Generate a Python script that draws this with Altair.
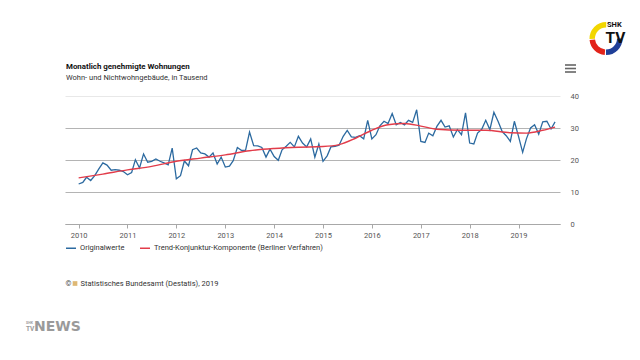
import altair as alt
import pandas as pd

# ---------------- data ----------------
orig_values = [12.5, 13.0, 14.6, 13.6, 15.1, 17.2, 19.1, 18.4, 16.8, 17.0, 16.8, 16.4,
               15.4, 16.1, 20.1, 17.5, 21.9, 19.3, 19.6, 20.3, 19.6, 19.1, 18.5, 23.7,
               14.1, 15.1, 19.7, 18.2, 23.2, 23.75, 22.2, 21.9, 20.9, 22.2, 18.75, 20.9,
               17.8, 18.1, 19.8, 23.9, 23.0, 23.0, 28.75, 24.5, 24.4, 23.9, 20.9, 23.4,
               21.1, 19.9, 23.2, 24.3, 25.5, 24.1, 27.4, 25.3, 24.1, 26.6, 20.9, 25.0,
               19.6, 21.3, 24.1, 24.3, 24.6, 27.4, 29.25, 27.2, 27.1, 27.6, 26.6, 32.4,
               26.6, 27.9, 30.7, 32.1, 31.4, 34.5, 31.0, 31.75, 31.0, 32.4, 31.75, 35.7,
               25.8, 25.5, 28.4, 27.6, 30.5, 32.4, 30.3, 30.7, 27.2, 29.5, 27.9, 34.7,
               25.3, 25.0, 28.4, 29.6, 32.4, 29.5, 34.9, 32.1, 28.9, 27.6, 25.8, 32.1,
               27.4, 22.4, 26.6, 30.0, 31.0, 28.1, 31.9, 32.1, 29.7, 31.9]
orig_start = "2010-01-01"

trend_months = ["2010-01", "2010-07", "2011-01", "2011-07", "2012-01", "2012-07",
                "2013-01", "2013-07", "2014-01", "2014-07", "2015-01", "2015-05",
                "2015-09", "2016-01", "2016-05", "2016-09", "2017-01", "2017-05",
                "2017-11", "2018-05", "2018-11", "2019-03", "2019-07", "2019-10"]
trend_values = [14.4, 15.6, 16.9, 18.0, 19.6, 20.6, 21.6, 22.9, 23.6, 24.0, 24.2, 24.8,
                26.8, 29.3, 31.0, 31.4, 30.6, 29.6, 29.3, 29.3, 28.5, 28.4, 29.3, 30.3]

series_names = ["Originalwerte", "Trend-Konjunktur-Komponente (Berliner Verfahren)"]
series_colors = ["#2c6aa0", "#e23c4a"]
year_ticks = list(range(2010, 2020))
y_ticks = [0, 10, 20, 30, 40]

title_text = "Monatlich genehmigte Wohnungen"
subtitle_text = "Wohn- und Nichtwohngebäude, in Tausend"
source_copy = "©"
source_text = "Statistisches Bundesamt (Destatis), 2019"

FONT = "Roboto"
OX, OY = 65, 96  # plot origin on page


def px(x):
    return x - OX


def py(y):
    return y - OY


months = pd.date_range(orig_start, periods=len(orig_values), freq="MS")
df_o = pd.DataFrame({"date": months, "value": orig_values, "series": series_names[0]})
df_t = pd.DataFrame({"date": pd.to_datetime(trend_months), "value": trend_values,
                     "series": series_names[1]})

x_enc = alt.X("date:T",
              scale=alt.Scale(domain=[alt.DateTime(year=2009, month=9, date=21),
                                      alt.DateTime(year=2019, month=11, date=7)]),
              axis=alt.Axis(values=[alt.DateTime(year=y, month=1, date=1) for y in year_ticks],
                            format="%Y", title=None, grid=False,
                            domainColor="#a8a8a8", tickColor="#a8a8a8", tickSize=4,
                            labelFontSize=7.5, labelColor="#555", labelFont=FONT,
                            labelPadding=3, labelFlush=False))
y_enc = alt.Y("value:Q",
              scale=alt.Scale(domain=[0, 40], nice=False),
              axis=alt.Axis(values=y_ticks, orient="right", title=None, domain=False,
                            ticks=False, labelPadding=10, labelFontSize=7.5,
                            labelColor="#555", labelFont=FONT, labelAlign="left",
                            gridColor={"condition": {"test": "datum.value === 40",
                                                     "value": "#e8e8e8"},
                                       "value": "#b4b4b4"},
                            gridWidth=1))
color_enc = alt.Color("series:N",
                      scale=alt.Scale(domain=series_names, range=series_colors),
                      legend=alt.Legend(orient="none", legendX=0, legendY=146,
                                        direction="horizontal", title=None,
                                        symbolType="stroke", symbolSize=100,
                                        symbolStrokeWidth=1.5, labelFontSize=7.5,
                                        labelFont=FONT, labelColor="#333",
                                        labelLimit=400, columnPadding=12,
                                        labelOffset=3))

orig_line = alt.Chart(df_o).mark_line(strokeWidth=1.3).encode(x=x_enc, y=y_enc, color=color_enc)
trend_line = alt.Chart(df_t).mark_line(strokeWidth=1.4, interpolate="monotone").encode(
    x=x_enc, y=y_enc, color=color_enc)

one = pd.DataFrame({"a": [0]})


def txt(text, x, y, size, color="#222", weight="normal", align="left", font=FONT):
    return alt.Chart(one).mark_text(text=text, align=align, baseline="alphabetic",
                                    fontSize=size, fontWeight=weight, color=color,
                                    font=font).encode(x=alt.value(px(x)), y=alt.value(py(y)))


title = txt(title_text, 66, 68.5, 7.9, "#111", "bold")
subtitle = txt(subtitle_text, 66, 80, 7.5, "#333")
src1 = txt(source_copy, 65.5, 286, 7.5, "#444")
src_icon = alt.Chart(one).mark_square(size=22, color="#d09a3a").encode(
    x=alt.value(px(75)), y=alt.value(py(283.5)))
src2 = txt(source_text, 80.5, 286, 7.5, "#333")

# hamburger menu
burger = [alt.Chart(one).mark_rule(color="#666", strokeWidth=1.6).encode(
    x=alt.value(px(565)), x2=alt.value(px(576)), y=alt.value(py(yy)))
    for yy in (65, 68.5, 72)]

# SHK TV logo (decoration)
cx, cy = 606, 38.5
arcs = [
    alt.Chart(one).mark_arc(theta=t1, theta2=t2, radius=16.5, radius2=11, color=c).encode(
        x=alt.value(px(cx)), y=alt.value(py(cy)))
    for t1, t2, c in [(4.68, 6.30, "#f2d600"), (3.22, 4.62, "#e2231a"), (1.57, 3.14, "#1f3f98")]
]
logo_shk = txt("SHK", 607, 26.5, 7.5, "#111", "bold")
logo_tv = txt("TV", 605.5, 42.5, 15.5, "#111", "bold")

# bottom-left SHK TV NEWS
news_shk = txt("SHK", 26, 323.5, 3.5, "#9a9a9a", "bold")
news_tv = txt("TV", 26, 331, 6.5, "#9a9a9a", "bold")
news = txt("NEWS", 34, 331, 14, "#9a9a9a", "bold", font="DejaVu Sans")

chart = alt.layer(
    orig_line, trend_line, title, subtitle, src1, src_icon, src2, *burger, *arcs,
    logo_shk, logo_tv, news_shk, news_tv, news
).properties(
    width=495, height=128,
    autosize=alt.AutoSizeParams(type="none"),
    padding={"left": OX - 8, "top": OY - 8, "right": 624 - (OX - 8) - 495,
             "bottom": 344 - (OY - 8) - 128},
    background="white",
).configure_view(stroke=None)

chart.save("out.html", embed_options={"renderer": "svg", "actions": False})
